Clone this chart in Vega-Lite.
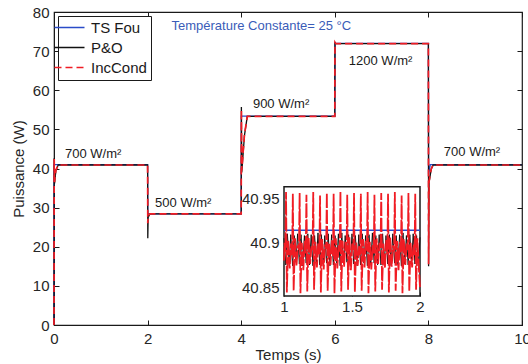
{
  "$schema": "https://vega.github.io/schema/vega-lite/v6.json",
  "width": 468,
  "height": 313,
  "autosize": {"type": "none"},
  "padding": {"left": 54, "top": 12, "right": 6, "bottom": 39},
  "config": {
    "font": "Liberation Sans",
    "view": {"stroke": "#1a1a1a", "strokeWidth": 1.2},
    "axis": {"labelFont": "Liberation Sans", "labelFontSize": 15, "labelColor": "#262626", "titleFont": "Liberation Sans", "titleFontSize": 15, "titleFontWeight": "normal", "titleColor": "#262626", "tickColor": "#1a1a1a", "domainColor": "#1a1a1a", "grid": false, "tickSize": -5, "labelFlush": false, "zindex": 1},
    "legend": {"orient": "top-left", "offset": 4, "padding": 4, "strokeColor": "#1a1a1a", "fillColor": "white", "cornerRadius": 0, "labelFont": "Liberation Sans", "labelFontSize": 15, "labelColor": "#1a1a1a", "symbolType": "M-3,0H3", "symbolSize": 100, "symbolStrokeWidth": 1.6, "rowPadding": 4, "labelOffset": 14}
  },
  "datasets": {
    "main": [
      {"t": 0, "p": 0, "s": "TS Fou"}, {"t": 0.003, "p": 41.0, "s": "TS Fou"}, {"t": 2.0, "p": 41.0, "s": "TS Fou"}, {"t": 2.004, "p": 28.4, "s": "TS Fou"}, {"t": 4.0, "p": 28.4, "s": "TS Fou"}, {"t": 4.004, "p": 53.4, "s": "TS Fou"}, {"t": 6.0, "p": 53.4, "s": "TS Fou"}, {"t": 6.004, "p": 72.0, "s": "TS Fou"}, {"t": 8.0, "p": 72.0, "s": "TS Fou"}, {"t": 8.004, "p": 38.5, "s": "TS Fou"}, {"t": 8.04, "p": 41.0, "s": "TS Fou"}, {"t": 10, "p": 41.0, "s": "TS Fou"},
      {"t": 0, "p": 0, "s": "P&O"}, {"t": 0.004, "p": 42.6, "s": "P&O"}, {"t": 0.012, "p": 36.2, "s": "P&O"}, {"t": 0.04, "p": 39.5, "s": "P&O"}, {"t": 0.09, "p": 40.9, "s": "P&O"}, {"t": 2.0, "p": 40.9, "s": "P&O"}, {"t": 2.004, "p": 22.2, "s": "P&O"}, {"t": 2.012, "p": 27.5, "s": "P&O"}, {"t": 2.05, "p": 28.4, "s": "P&O"}, {"t": 4.0, "p": 28.4, "s": "P&O"}, {"t": 4.004, "p": 55.7, "s": "P&O"}, {"t": 4.012, "p": 39.0, "s": "P&O"}, {"t": 4.07, "p": 48.5, "s": "P&O"}, {"t": 4.13, "p": 53.3, "s": "P&O"}, {"t": 6.0, "p": 53.3, "s": "P&O"}, {"t": 6.004, "p": 72.3, "s": "P&O"}, {"t": 6.02, "p": 71.9, "s": "P&O"}, {"t": 8.0, "p": 71.9, "s": "P&O"}, {"t": 8.004, "p": 15.0, "s": "P&O"}, {"t": 8.015, "p": 36.5, "s": "P&O"}, {"t": 8.06, "p": 39.8, "s": "P&O"}, {"t": 8.1, "p": 40.9, "s": "P&O"}, {"t": 10, "p": 40.9, "s": "P&O"},
      {"t": 0, "p": 0, "s": "IncCond"}, {"t": 0.004, "p": 42.4, "s": "IncCond"}, {"t": 0.012, "p": 36.5, "s": "IncCond"}, {"t": 0.04, "p": 39.6, "s": "IncCond"}, {"t": 0.09, "p": 40.9, "s": "IncCond"}, {"t": 2.0, "p": 40.9, "s": "IncCond"}, {"t": 2.004, "p": 26.0, "s": "IncCond"}, {"t": 2.012, "p": 27.8, "s": "IncCond"}, {"t": 2.05, "p": 28.4, "s": "IncCond"}, {"t": 4.0, "p": 28.4, "s": "IncCond"}, {"t": 4.004, "p": 55.0, "s": "IncCond"}, {"t": 4.012, "p": 39.5, "s": "IncCond"}, {"t": 4.07, "p": 48.7, "s": "IncCond"}, {"t": 4.13, "p": 53.3, "s": "IncCond"}, {"t": 6.0, "p": 53.3, "s": "IncCond"}, {"t": 6.004, "p": 72.2, "s": "IncCond"}, {"t": 6.02, "p": 71.9, "s": "IncCond"}, {"t": 8.0, "p": 71.9, "s": "IncCond"}, {"t": 8.004, "p": 15.5, "s": "IncCond"}, {"t": 8.015, "p": 36.8, "s": "IncCond"}, {"t": 8.06, "p": 39.9, "s": "IncCond"}, {"t": 8.1, "p": 40.9, "s": "IncCond"}, {"t": 10, "p": 40.9, "s": "IncCond"}
    ],
    "notes": [
      {"t": 0.235, "p": 43.6, "label": "700 W/m²"},
      {"t": 2.16, "p": 31.3, "label": "500 W/m²"},
      {"t": 4.25, "p": 56.5, "label": "900 W/m²"},
      {"t": 6.3, "p": 67.6, "label": "1200 W/m²"},
      {"t": 8.33, "p": 44.1, "label": "700 W/m²"}
    ],
    "caption": [
      {"t": 2.51, "p": 76.4, "label": "Température Constante= 25 °C"}
    ],
    "box": [
      {"t": 1, "t2": 2, "p": 40.84, "p2": 40.963}
    ],
    "inset": [
      {"t": 1.0, "p": 40.914, "s": "TS Fou"}, {"t": 2.0, "p": 40.914, "s": "TS Fou"},
      {"t": 1.000, "p": 40.905, "s": "P&O"}, {"t": 1.013, "p": 40.875, "s": "P&O"}, {"t": 1.025, "p": 40.910, "s": "P&O"}, {"t": 1.038, "p": 40.877, "s": "P&O"},
      {"t": 1.050, "p": 40.909, "s": "P&O"}, {"t": 1.063, "p": 40.874, "s": "P&O"}, {"t": 1.075, "p": 40.908, "s": "P&O"}, {"t": 1.088, "p": 40.878, "s": "P&O"},
      {"t": 1.100, "p": 40.910, "s": "P&O"}, {"t": 1.113, "p": 40.876, "s": "P&O"}, {"t": 1.125, "p": 40.909, "s": "P&O"}, {"t": 1.138, "p": 40.874, "s": "P&O"},
      {"t": 1.150, "p": 40.908, "s": "P&O"}, {"t": 1.163, "p": 40.877, "s": "P&O"}, {"t": 1.175, "p": 40.910, "s": "P&O"}, {"t": 1.188, "p": 40.875, "s": "P&O"},
      {"t": 1.200, "p": 40.909, "s": "P&O"}, {"t": 1.213, "p": 40.874, "s": "P&O"}, {"t": 1.225, "p": 40.908, "s": "P&O"}, {"t": 1.238, "p": 40.878, "s": "P&O"},
      {"t": 1.250, "p": 40.911, "s": "P&O"}, {"t": 1.263, "p": 40.875, "s": "P&O"}, {"t": 1.275, "p": 40.909, "s": "P&O"}, {"t": 1.288, "p": 40.876, "s": "P&O"},
      {"t": 1.300, "p": 40.908, "s": "P&O"}, {"t": 1.313, "p": 40.877, "s": "P&O"}, {"t": 1.325, "p": 40.910, "s": "P&O"}, {"t": 1.338, "p": 40.874, "s": "P&O"},
      {"t": 1.350, "p": 40.909, "s": "P&O"}, {"t": 1.363, "p": 40.875, "s": "P&O"}, {"t": 1.375, "p": 40.908, "s": "P&O"}, {"t": 1.388, "p": 40.877, "s": "P&O"},
      {"t": 1.400, "p": 40.910, "s": "P&O"}, {"t": 1.413, "p": 40.874, "s": "P&O"}, {"t": 1.425, "p": 40.911, "s": "P&O"}, {"t": 1.438, "p": 40.876, "s": "P&O"},
      {"t": 1.450, "p": 40.908, "s": "P&O"}, {"t": 1.463, "p": 40.878, "s": "P&O"}, {"t": 1.475, "p": 40.909, "s": "P&O"}, {"t": 1.488, "p": 40.875, "s": "P&O"},
      {"t": 1.500, "p": 40.910, "s": "P&O"}, {"t": 1.513, "p": 40.876, "s": "P&O"}, {"t": 1.525, "p": 40.908, "s": "P&O"}, {"t": 1.538, "p": 40.874, "s": "P&O"},
      {"t": 1.550, "p": 40.909, "s": "P&O"}, {"t": 1.563, "p": 40.875, "s": "P&O"}, {"t": 1.575, "p": 40.910, "s": "P&O"}, {"t": 1.588, "p": 40.877, "s": "P&O"},
      {"t": 1.600, "p": 40.908, "s": "P&O"}, {"t": 1.613, "p": 40.874, "s": "P&O"}, {"t": 1.625, "p": 40.909, "s": "P&O"}, {"t": 1.638, "p": 40.876, "s": "P&O"},
      {"t": 1.650, "p": 40.911, "s": "P&O"}, {"t": 1.663, "p": 40.877, "s": "P&O"}, {"t": 1.675, "p": 40.908, "s": "P&O"}, {"t": 1.688, "p": 40.875, "s": "P&O"},
      {"t": 1.700, "p": 40.909, "s": "P&O"}, {"t": 1.713, "p": 40.875, "s": "P&O"}, {"t": 1.725, "p": 40.910, "s": "P&O"}, {"t": 1.738, "p": 40.878, "s": "P&O"},
      {"t": 1.750, "p": 40.908, "s": "P&O"}, {"t": 1.763, "p": 40.876, "s": "P&O"}, {"t": 1.775, "p": 40.909, "s": "P&O"}, {"t": 1.788, "p": 40.874, "s": "P&O"},
      {"t": 1.800, "p": 40.910, "s": "P&O"}, {"t": 1.813, "p": 40.877, "s": "P&O"}, {"t": 1.825, "p": 40.908, "s": "P&O"}, {"t": 1.838, "p": 40.875, "s": "P&O"},
      {"t": 1.850, "p": 40.909, "s": "P&O"}, {"t": 1.863, "p": 40.874, "s": "P&O"}, {"t": 1.875, "p": 40.911, "s": "P&O"}, {"t": 1.888, "p": 40.876, "s": "P&O"},
      {"t": 1.900, "p": 40.908, "s": "P&O"}, {"t": 1.913, "p": 40.875, "s": "P&O"}, {"t": 1.925, "p": 40.909, "s": "P&O"}, {"t": 1.938, "p": 40.877, "s": "P&O"},
      {"t": 1.950, "p": 40.910, "s": "P&O"}, {"t": 1.963, "p": 40.876, "s": "P&O"}, {"t": 1.975, "p": 40.908, "s": "P&O"}, {"t": 1.988, "p": 40.874, "s": "P&O"},
      {"t": 2.000, "p": 40.906, "s": "P&O"},
      {"t": 1.000, "p": 40.880, "s": "IncCond"}, {"t": 1.004, "p": 40.900, "s": "IncCond"},
      {"t": 1.010, "p": 40.890, "s": "IncCond"}, {"t": 1.015, "p": 40.957, "s": "IncCond"}, {"t": 1.021, "p": 40.844, "s": "IncCond"}, {"t": 1.031, "p": 40.903, "s": "IncCond"}, {"t": 1.042, "p": 40.871, "s": "IncCond"}, {"t": 1.052, "p": 40.899, "s": "IncCond"},
      {"t": 1.060, "p": 40.886, "s": "IncCond"}, {"t": 1.065, "p": 40.955, "s": "IncCond"}, {"t": 1.071, "p": 40.846, "s": "IncCond"}, {"t": 1.081, "p": 40.905, "s": "IncCond"}, {"t": 1.092, "p": 40.874, "s": "IncCond"}, {"t": 1.102, "p": 40.897, "s": "IncCond"},
      {"t": 1.110, "p": 40.892, "s": "IncCond"}, {"t": 1.115, "p": 40.956, "s": "IncCond"}, {"t": 1.121, "p": 40.843, "s": "IncCond"}, {"t": 1.131, "p": 40.900, "s": "IncCond"}, {"t": 1.142, "p": 40.869, "s": "IncCond"}, {"t": 1.152, "p": 40.902, "s": "IncCond"},
      {"t": 1.160, "p": 40.888, "s": "IncCond"}, {"t": 1.165, "p": 40.954, "s": "IncCond"}, {"t": 1.171, "p": 40.845, "s": "IncCond"}, {"t": 1.181, "p": 40.906, "s": "IncCond"}, {"t": 1.192, "p": 40.876, "s": "IncCond"}, {"t": 1.202, "p": 40.896, "s": "IncCond"},
      {"t": 1.210, "p": 40.891, "s": "IncCond"}, {"t": 1.215, "p": 40.957, "s": "IncCond"}, {"t": 1.221, "p": 40.847, "s": "IncCond"}, {"t": 1.231, "p": 40.901, "s": "IncCond"}, {"t": 1.242, "p": 40.872, "s": "IncCond"}, {"t": 1.252, "p": 40.900, "s": "IncCond"},
      {"t": 1.260, "p": 40.887, "s": "IncCond"}, {"t": 1.265, "p": 40.953, "s": "IncCond"}, {"t": 1.271, "p": 40.844, "s": "IncCond"}, {"t": 1.281, "p": 40.904, "s": "IncCond"}, {"t": 1.292, "p": 40.870, "s": "IncCond"}, {"t": 1.302, "p": 40.898, "s": "IncCond"},
      {"t": 1.310, "p": 40.893, "s": "IncCond"}, {"t": 1.315, "p": 40.956, "s": "IncCond"}, {"t": 1.321, "p": 40.846, "s": "IncCond"}, {"t": 1.331, "p": 40.899, "s": "IncCond"}, {"t": 1.342, "p": 40.875, "s": "IncCond"}, {"t": 1.352, "p": 40.903, "s": "IncCond"},
      {"t": 1.360, "p": 40.885, "s": "IncCond"}, {"t": 1.365, "p": 40.955, "s": "IncCond"}, {"t": 1.371, "p": 40.843, "s": "IncCond"}, {"t": 1.381, "p": 40.905, "s": "IncCond"}, {"t": 1.392, "p": 40.871, "s": "IncCond"}, {"t": 1.402, "p": 40.897, "s": "IncCond"},
      {"t": 1.410, "p": 40.890, "s": "IncCond"}, {"t": 1.415, "p": 40.958, "s": "IncCond"}, {"t": 1.421, "p": 40.845, "s": "IncCond"}, {"t": 1.431, "p": 40.902, "s": "IncCond"}, {"t": 1.442, "p": 40.873, "s": "IncCond"}, {"t": 1.452, "p": 40.901, "s": "IncCond"},
      {"t": 1.460, "p": 40.889, "s": "IncCond"}, {"t": 1.465, "p": 40.954, "s": "IncCond"}, {"t": 1.471, "p": 40.847, "s": "IncCond"}, {"t": 1.481, "p": 40.906, "s": "IncCond"}, {"t": 1.492, "p": 40.869, "s": "IncCond"}, {"t": 1.502, "p": 40.899, "s": "IncCond"},
      {"t": 1.510, "p": 40.892, "s": "IncCond"}, {"t": 1.515, "p": 40.956, "s": "IncCond"}, {"t": 1.521, "p": 40.844, "s": "IncCond"}, {"t": 1.531, "p": 40.900, "s": "IncCond"}, {"t": 1.542, "p": 40.874, "s": "IncCond"}, {"t": 1.552, "p": 40.896, "s": "IncCond"},
      {"t": 1.560, "p": 40.886, "s": "IncCond"}, {"t": 1.565, "p": 40.955, "s": "IncCond"}, {"t": 1.571, "p": 40.846, "s": "IncCond"}, {"t": 1.581, "p": 40.904, "s": "IncCond"}, {"t": 1.592, "p": 40.872, "s": "IncCond"}, {"t": 1.602, "p": 40.902, "s": "IncCond"},
      {"t": 1.610, "p": 40.891, "s": "IncCond"}, {"t": 1.615, "p": 40.957, "s": "IncCond"}, {"t": 1.621, "p": 40.843, "s": "IncCond"}, {"t": 1.631, "p": 40.901, "s": "IncCond"}, {"t": 1.642, "p": 40.870, "s": "IncCond"}, {"t": 1.652, "p": 40.898, "s": "IncCond"},
      {"t": 1.660, "p": 40.888, "s": "IncCond"}, {"t": 1.665, "p": 40.954, "s": "IncCond"}, {"t": 1.671, "p": 40.845, "s": "IncCond"}, {"t": 1.681, "p": 40.905, "s": "IncCond"}, {"t": 1.692, "p": 40.876, "s": "IncCond"}, {"t": 1.702, "p": 40.900, "s": "IncCond"},
      {"t": 1.710, "p": 40.893, "s": "IncCond"}, {"t": 1.715, "p": 40.956, "s": "IncCond"}, {"t": 1.721, "p": 40.847, "s": "IncCond"}, {"t": 1.731, "p": 40.899, "s": "IncCond"}, {"t": 1.742, "p": 40.871, "s": "IncCond"}, {"t": 1.752, "p": 40.903, "s": "IncCond"},
      {"t": 1.760, "p": 40.887, "s": "IncCond"}, {"t": 1.765, "p": 40.955, "s": "IncCond"}, {"t": 1.771, "p": 40.844, "s": "IncCond"}, {"t": 1.781, "p": 40.906, "s": "IncCond"}, {"t": 1.792, "p": 40.873, "s": "IncCond"}, {"t": 1.802, "p": 40.897, "s": "IncCond"},
      {"t": 1.810, "p": 40.890, "s": "IncCond"}, {"t": 1.815, "p": 40.957, "s": "IncCond"}, {"t": 1.821, "p": 40.846, "s": "IncCond"}, {"t": 1.831, "p": 40.902, "s": "IncCond"}, {"t": 1.842, "p": 40.869, "s": "IncCond"}, {"t": 1.852, "p": 40.901, "s": "IncCond"},
      {"t": 1.860, "p": 40.889, "s": "IncCond"}, {"t": 1.865, "p": 40.953, "s": "IncCond"}, {"t": 1.871, "p": 40.843, "s": "IncCond"}, {"t": 1.881, "p": 40.904, "s": "IncCond"}, {"t": 1.892, "p": 40.875, "s": "IncCond"}, {"t": 1.902, "p": 40.899, "s": "IncCond"},
      {"t": 1.910, "p": 40.892, "s": "IncCond"}, {"t": 1.915, "p": 40.956, "s": "IncCond"}, {"t": 1.921, "p": 40.845, "s": "IncCond"}, {"t": 1.931, "p": 40.900, "s": "IncCond"}, {"t": 1.942, "p": 40.872, "s": "IncCond"}, {"t": 1.952, "p": 40.898, "s": "IncCond"},
      {"t": 1.960, "p": 40.886, "s": "IncCond"}, {"t": 1.965, "p": 40.955, "s": "IncCond"}, {"t": 1.971, "p": 40.847, "s": "IncCond"}, {"t": 1.981, "p": 40.905, "s": "IncCond"}, {"t": 1.992, "p": 40.870, "s": "IncCond"}, {"t": 2.000, "p": 40.850, "s": "IncCond"}
    ]
  },
  "layer": [
    {
      "encoding": {
        "x": {"field": "t", "type": "quantitative", "scale": {"domain": [0, 10], "nice": false, "zero": false}, "axis": null},
        "y": {"field": "p", "type": "quantitative", "scale": {"domain": [0, 80], "nice": false}, "axis": null}
      },
      "resolve": {"axis": {"x": "independent", "y": "independent"}},
      "layer": [
        {
          "data": {"name": "main"},
          "transform": [{"filter": "datum.s === 'TS Fou'"}],
          "mark": {"type": "line", "strokeWidth": 1.3},
          "encoding": {
            "x": {"field": "t", "type": "quantitative", "scale": {"domain": [0, 10], "nice": false, "zero": false}, "axis": {"orient": "bottom", "values": [0, 2, 4, 6, 8, 10], "title": "Temps (s)", "labelPadding": 11, "titlePadding": 1}},
            "y": {"field": "p", "type": "quantitative", "scale": {"domain": [0, 80], "nice": false}, "axis": {"orient": "left", "values": [0, 10, 20, 30, 40, 50, 60, 70, 80], "title": "Puissance (W)", "labelPadding": 10, "titlePadding": 6}},
            "color": {"field": "s", "type": "nominal", "title": null, "scale": {"domain": ["TS Fou", "P&O", "IncCond"], "range": ["#2a4bc8", "#111111", "#f01c24"]}},
            "strokeDash": {"field": "s", "type": "nominal", "title": null, "scale": {"domain": ["TS Fou", "P&O", "IncCond"], "range": [[1, 0], [1, 0], [7, 4]]}}
          }
        },
        {
          "data": {"name": "main"},
          "transform": [{"filter": "datum.s === 'P&O'"}],
          "mark": {"type": "line", "strokeWidth": 1.3},
          "encoding": {
            "color": {"field": "s", "type": "nominal", "title": null},
            "strokeDash": {"field": "s", "type": "nominal", "title": null}
          }
        },
        {
          "data": {"name": "main"},
          "transform": [{"filter": "datum.s === 'IncCond'"}],
          "mark": {"type": "line", "strokeWidth": 1.7},
          "encoding": {
            "color": {"field": "s", "type": "nominal", "title": null},
            "strokeDash": {"field": "s", "type": "nominal", "title": null}
          }
        },
        {
          "data": {"name": "main"},
          "mark": {"type": "point", "opacity": 0},
          "encoding": {
            "x": {"field": "t", "type": "quantitative", "scale": {"domain": [0, 10], "nice": false, "zero": false}, "axis": {"orient": "top", "values": [0, 2, 4, 6, 8, 10], "labels": false, "title": null, "domain": false}},
            "y": {"field": "p", "type": "quantitative", "scale": {"domain": [0, 80], "nice": false}, "axis": {"orient": "right", "values": [0, 10, 20, 30, 40, 50, 60, 70, 80], "labels": false, "title": null, "domain": false}}
          }
        },
        {
          "data": {"name": "notes"},
          "mark": {"type": "text", "align": "left", "baseline": "middle", "font": "Liberation Sans", "fontSize": 13, "color": "#1a1a1a"},
          "encoding": {"text": {"field": "label"}}
        },
        {
          "data": {"name": "caption"},
          "mark": {"type": "text", "align": "left", "baseline": "middle", "font": "Liberation Sans", "fontSize": 13, "color": "#3a5cb8"},
          "encoding": {"text": {"field": "label"}}
        }
      ]
    },
    {
      "encoding": {
        "x": {"field": "t", "type": "quantitative", "scale": {"domain": [1, 2], "range": [230, 366], "nice": false, "zero": false}, "axis": {"orient": "bottom", "offset": -29, "values": [1, 1.5, 2], "labelExpr": "'' + datum.value", "title": null, "domain": false, "tickSize": -4, "labelPadding": 7}},
        "y": {"field": "p", "type": "quantitative", "scale": {"domain": [40.84, 40.963], "range": [284, 174.7], "nice": false, "zero": false}, "axis": {"orient": "left", "offset": -230, "values": [40.85, 40.9, 40.95], "labelExpr": "'' + datum.value", "title": null, "domain": false, "tickSize": -4, "labelPadding": 9}}
      },
      "layer": [
        {
          "data": {"name": "box"},
          "mark": {"type": "rect", "fill": "white", "stroke": "#1a1a1a", "strokeWidth": 1.5},
          "encoding": {
            "x2": {"field": "t2"},
            "y2": {"field": "p2"}
          }
        },
        {
          "data": {"name": "inset"},
          "transform": [{"filter": "datum.s === 'TS Fou'"}],
          "mark": {"type": "line", "strokeWidth": 1.3, "clip": true},
          "encoding": {
            "color": {"field": "s", "type": "nominal", "title": null}
          }
        },
        {
          "data": {"name": "inset"},
          "transform": [{"filter": "datum.s === 'P&O'"}],
          "mark": {"type": "line", "strokeWidth": 1.0, "clip": true},
          "encoding": {
            "color": {"field": "s", "type": "nominal", "title": null}
          }
        },
        {
          "data": {"name": "inset"},
          "transform": [{"filter": "datum.s === 'IncCond'"}],
          "mark": {"type": "line", "strokeWidth": 1.8, "clip": true, "strokeDash": [14, 2]},
          "encoding": {
            "color": {"field": "s", "type": "nominal", "title": null}
          }
        }
      ]
    }
  ],
  "resolve": {"scale": {"x": "independent", "y": "independent"}}
}
